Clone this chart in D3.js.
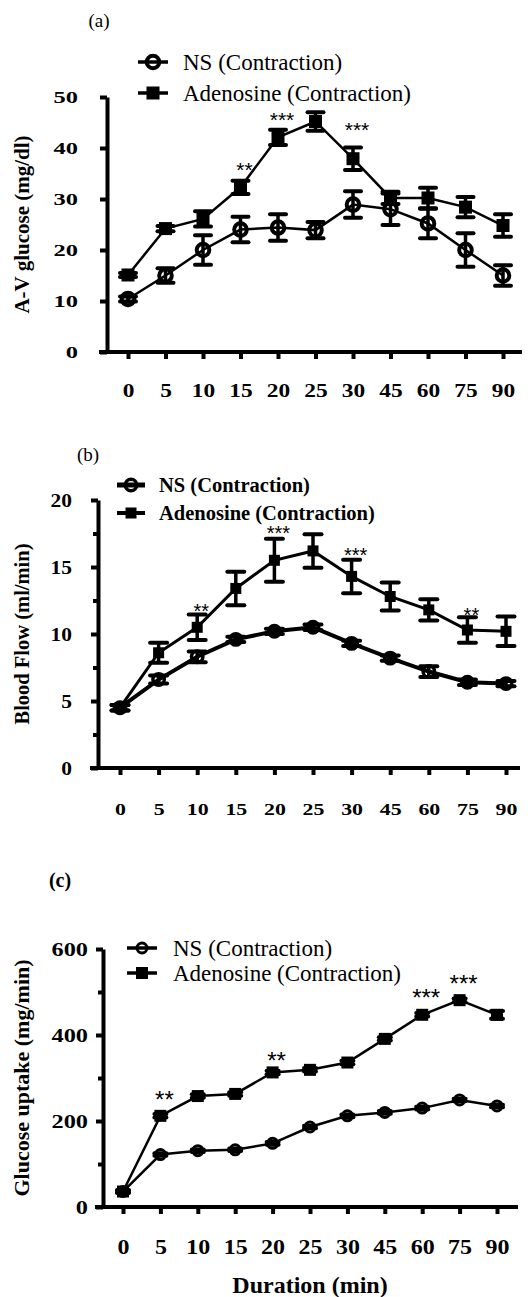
<!DOCTYPE html>
<html>
<head>
<meta charset="utf-8">
<title>A-V glucose, blood flow and glucose uptake</title>
<script src="https://d3js.org/d3.v7.min.js"></script>
<style>
  body { margin: 0; background: #fff; }
  svg { display: block; }
  text { font-family: "Liberation Serif", "Times New Roman", serif; fill: #000; }
  .stars { font-family: "Liberation Sans", Arial, sans-serif; }
</style>
</head>
<body>
<script>
const minutes = ["0", "5", "10", "15", "20", "25", "30", "45", "60", "75", "90"];
const seriesNames = ["NS (Contraction)", "Adenosine (Contraction)"];

// (a) A-V glucose (mg/dl)
const avNS     = [10.4, 15.0, 20.0, 24.0, 24.4, 23.9, 28.9, 28.0, 25.2, 20.0, 15.0];
const avNSErr  = [0.5, 1.4, 2.9, 2.5, 2.6, 1.6, 2.6, 3.1, 2.9, 3.3, 2.0];
const avAde    = [15.1, 24.2, 26.1, 32.3, 42.1, 45.2, 37.9, 30.2, 30.2, 28.4, 24.8];
const avAdeErr = [0.4, 0.5, 1.5, 1.3, 1.5, 1.8, 2.2, 1.2, 2.0, 2.0, 2.2];
const avStars  = [["15", "**", 36.3], ["20", "***", 46.1], ["30", "***", 44.2]];

// (b) Blood flow (ml/min)
const bfNS     = [4.5, 6.6, 8.3, 9.6, 10.2, 10.5, 9.3, 8.2, 7.2, 6.4, 6.3];
const bfNSErr  = [0.2, 0.3, 0.4, 0.2, 0.2, 0.2, 0.2, 0.2, 0.4, 0.2, 0.2];
const bfAde    = [4.5, 8.6, 10.5, 13.4, 15.5, 16.2, 14.3, 12.8, 11.8, 10.3, 10.2];
const bfAdeErr = [0.2, 0.75, 0.95, 1.25, 1.6, 1.25, 1.25, 1.05, 0.8, 0.95, 1.1];
const bfStars  = [["10", "**", 11.9], ["20", "***", 17.7], ["30", "***", 16.1], ["75", "**", 11.6]];

// (c) Glucose uptake (mg/min)
const guNS     = [36, 122, 131, 133, 148, 186, 212, 220, 230, 249, 235];
const guNSErr  = [3, 3, 3, 3, 3, 3, 3, 3, 3, 3, 3];
const guAde    = [36, 212, 258, 263, 313, 319, 336, 391, 447, 481, 447];
const guAdeErr = [3, 4, 4, 4, 4, 4, 4, 4, 4, 4, 9];
const guStars  = [["5", "**", 256], ["20", "**", 348], ["60", "***", 495], ["75", "***", 526]];

const width = 528, height = 1297;
const svg = d3.select('body').append('svg').attr('width', width).attr('height', height);

function drawPanel(cfg) {
  const g = svg.append('g');
  const x = d3.scalePoint().domain(minutes).range(cfg.xRange);
  const y = d3.scaleLinear().domain([0, cfg.yMax]).range([cfg.y0, cfg.y1]);

  // panel letter
  g.append('text').attr('x', cfg.title[0]).attr('y', cfg.title[1]).attr('dy', '0.33em')
    .attr('text-anchor', 'middle').style('font-size', cfg.title[2] + 'px')
    .style('font-weight', cfg.title[3]).text(cfg.letter);

  // y axis
  const ya = g.append('g').attr('transform', `translate(${cfg.left},0)`)
    .call(d3.axisLeft(y).tickValues(cfg.yTicks).tickSize(7).tickSizeOuter(0).tickPadding(0));
  ya.select('.domain').attr('stroke-width', 4);
  ya.selectAll('.tick line').attr('stroke-width', 4);
  ya.selectAll('.tick text')
    .attr('x', -cfg.yGap / cfg.ySx).attr('dy', '0.34em')
    .attr('transform', `scale(${cfg.ySx},1)`)
    .style('font-size', cfg.yFont + 'px').style('font-weight', 'bold').style('font-family', '"Liberation Serif", serif');
  if (cfg.yMinor.length) {
    const ym = g.append('g').attr('transform', `translate(${cfg.left},0)`)
      .call(d3.axisLeft(y).tickValues(cfg.yMinor).tickSize(5).tickFormat(''));
    ym.select('.domain').remove();
    ym.selectAll('.tick line').attr('stroke-width', 4);
  }

  // x axis
  const xa = g.append('g').attr('transform', `translate(0,${cfg.y0})`)
    .call(d3.axisBottom(x).tickSize(7).tickSizeOuter(0).tickPadding(cfg.xPad));
  xa.select('.domain').attr('d', `M${cfg.left - 8},0H${cfg.right}`).attr('stroke-width', 4);
  xa.selectAll('.tick line').attr('stroke-width', 4);
  xa.selectAll('.tick text')
    .attr('transform', `scale(${cfg.xSx},1)`)
    .style('font-size', cfg.xFont + 'px').style('font-weight', 'bold').style('font-family', '"Liberation Serif", serif');

  // y label
  g.append('text')
    .attr('transform', `translate(${cfg.yLabelX},${(cfg.y0 + cfg.y1) / 2}) rotate(-90)`)
    .attr('text-anchor', 'middle').attr('dy', '0.33em')
    .style('font-size', cfg.yLabelFont + 'px').style('font-weight', 'bold').text(cfg.yLabel);

  const line = d3.line().x((d, i) => x(minutes[i])).y(d => y(d));
  const series = [
    { name: seriesNames[0], vals: cfg.ns, err: cfg.nsErr, shape: 'circle', lw: cfg.nsLine },
    { name: seriesNames[1], vals: cfg.ade, err: cfg.adeErr, shape: 'square', lw: cfg.adeLine }
  ];

  series.forEach(s => {
    g.append('path').datum(s.vals).attr('d', line)
      .attr('fill', 'none').attr('stroke', '#000').attr('stroke-width', s.lw);
  });

  // error bars
  series.forEach(s => {
    const eb = g.append('g').selectAll('g').data(s.vals).join('g');
    eb.append('line')
      .attr('x1', (d, i) => x(minutes[i])).attr('x2', (d, i) => x(minutes[i]))
      .attr('y1', (d, i) => y(d - s.err[i])).attr('y2', (d, i) => y(d + s.err[i]))
      .attr('stroke', '#000').attr('stroke-width', 3.5);
    [-1, 1].forEach(sgn => {
      eb.append('line')
        .attr('x1', (d, i) => x(minutes[i]) - cfg.cap / 2).attr('x2', (d, i) => x(minutes[i]) + cfg.cap / 2)
        .attr('y1', (d, i) => y(d + sgn * s.err[i])).attr('y2', (d, i) => y(d + sgn * s.err[i]))
        .attr('stroke', '#000').attr('stroke-width', 4).attr('stroke-linecap', 'round');
    });
  });

  function marker(sel, shape) {
    if (shape === 'circle') {
      sel.append('circle').attr('r', cfg.r).attr('fill', 'none')
        .attr('stroke', '#000').attr('stroke-width', cfg.rStroke);
    } else {
      sel.append('rect').attr('x', -cfg.sq / 2).attr('y', -cfg.sq / 2)
        .attr('width', cfg.sq).attr('height', cfg.sq).attr('fill', '#000');
    }
  }

  // markers: adenosine first, NS rings on top
  [series[1], series[0]].forEach(s => {
    g.append('g').selectAll('g').data(s.vals).join('g')
      .attr('transform', (d, i) => `translate(${x(minutes[i])},${y(d)})`)
      .call(sel => marker(sel, s.shape));
  });

  // significance stars
  g.append('g').selectAll('text').data(cfg.stars).join('text')
    .attr('class', 'stars')
    .attr('x', d => x(d[0]) + 4).attr('y', d => y(d[2])).attr('dy', '0.48em')
    .attr('text-anchor', 'middle').style('font-size', cfg.starFont + 'px')
    .style('font-family', '"Liberation Sans", sans-serif').text(d => d[1]);

  // legend
  const lg = g.append('g').selectAll('g').data(series).join('g')
    .attr('transform', (d, i) => `translate(0,${cfg.legendRows[i]})`);
  lg.append('line').attr('x1', cfg.legendLine[0]).attr('x2', cfg.legendLine[1])
    .attr('stroke', '#000').attr('stroke-width', d => d.lw + 1);
  lg.append('g').attr('transform', `translate(${(cfg.legendLine[0] + cfg.legendLine[1]) / 2},0)`)
    .each(function (d) { marker(d3.select(this), d.shape); });
  lg.append('text').attr('x', cfg.legendText).attr('dy', '0.33em')
    .style('font-size', cfg.legendFont + 'px').style('font-weight', cfg.legendWeight)
    .text(d => d.name);

  if (cfg.xLabel) {
    g.append('text').attr('x', cfg.xLabel[1]).attr('y', cfg.xLabel[2])
      .attr('text-anchor', 'middle').style('font-size', cfg.xLabel[3] + 'px')
      .style('font-weight', 'bold').text(cfg.xLabel[0]);
  }
}

drawPanel({
  letter: '(a)', title: [99, 21, 19, 'normal'],
  left: 107, right: 522, xRange: [128, 503], y0: 352, y1: 97, yMax: 50,
  yTicks: [0, 10, 20, 30, 40, 50], yMinor: [],
  yGap: 29, yFont: 17.5, ySx: 1.4, xFont: 19.5, xSx: 1.2, xPad: 24,
  yLabel: 'A-V glucose (mg/dl)', yLabelX: 22, yLabelFont: 21,
  ns: avNS, nsErr: avNSErr, ade: avAde, adeErr: avAdeErr, stars: avStars, starFont: 21,
  nsLine: 2.5, adeLine: 2.5, cap: 16, r: 6.3, rStroke: 4, sq: 13,
  legendRows: [62, 93], legendLine: [138, 168], legendText: 183, legendFont: 23, legendWeight: 'normal'
});

drawPanel({
  letter: '(b)', title: [88, 455, 19, 'normal'],
  left: 98, right: 520, xRange: [120, 506], y0: 768, y1: 500, yMax: 20,
  yTicks: [0, 5, 10, 15, 20], yMinor: [2.5, 7.5, 12.5, 17.5],
  yGap: 26, yFont: 19.5, ySx: 1.1, xFont: 17.5, xSx: 1.25, xPad: 28,
  yLabel: 'Blood Flow (ml/min)', yLabelX: 22, yLabelFont: 20.5,
  ns: bfNS, nsErr: bfNSErr, ade: bfAde, adeErr: bfAdeErr, stars: bfStars, starFont: 20,
  nsLine: 4, adeLine: 3, cap: 17, r: 5.7, rStroke: 3.5, sq: 11,
  legendRows: [485, 513], legendLine: [117, 145], legendText: 159, legendFont: 20.5, legendWeight: 'bold'
});

drawPanel({
  letter: '(c)', title: [60, 880, 20, 'bold'],
  left: 103, right: 518, xRange: [123, 497], y0: 1207, y1: 949, yMax: 600,
  yTicks: [0, 200, 400, 600], yMinor: [100, 300, 500],
  yGap: 15, yFont: 19.5, ySx: 1.25, xFont: 22, xSx: 1.09, xPad: 24,
  yLabel: 'Glucose uptake (mg/min)', yLabelX: 22, yLabelFont: 22,
  ns: guNS, nsErr: guNSErr, ade: guAde, adeErr: guAdeErr, stars: guStars, starFont: 24,
  nsLine: 2.5, adeLine: 2.5, cap: 12, r: 5, rStroke: 3, sq: 12,
  legendRows: [948, 973], legendLine: [127, 157], legendText: 173, legendFont: 23, legendWeight: 'normal',
  xLabel: ['Duration (min)', 310, 1293, 24]
});
</script>
</body>
</html>
